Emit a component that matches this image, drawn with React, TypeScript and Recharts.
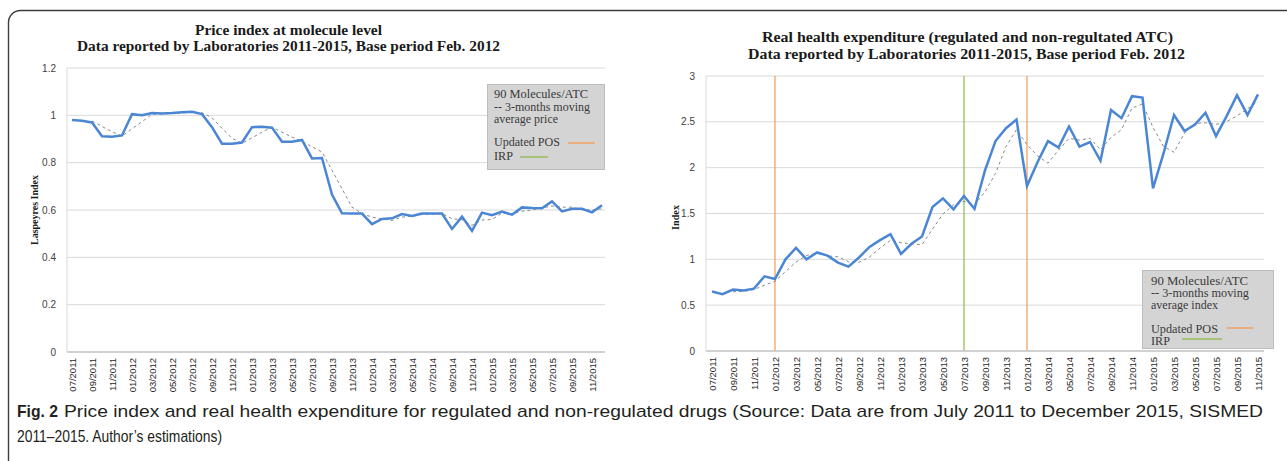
import React from "react";
import { LineChart, Line, XAxis, YAxis, CartesianGrid, ReferenceLine } from "recharts";

const months = [
  "07/2011", "08/2011", "09/2011", "10/2011", "11/2011", "12/2011",
  "01/2012", "02/2012", "03/2012", "04/2012", "05/2012", "06/2012",
  "07/2012", "08/2012", "09/2012", "10/2012", "11/2012", "12/2012",
  "01/2013", "02/2013", "03/2013", "04/2013", "05/2013", "06/2013",
  "07/2013", "08/2013", "09/2013", "10/2013", "11/2013", "12/2013",
  "01/2014", "02/2014", "03/2014", "04/2014", "05/2014", "06/2014",
  "07/2014", "08/2014", "09/2014", "10/2014", "11/2014", "12/2014",
  "01/2015", "02/2015", "03/2015", "04/2015", "05/2015", "06/2015",
  "07/2015", "08/2015", "09/2015", "10/2015", "11/2015", "12/2015",
];

// Laspeyres price index, 90 molecules/ATC
const priceIndex = [
  0.98, 0.977, 0.97, 0.912, 0.91, 0.915, 1.005, 1.0, 1.01, 1.008,
  1.01, 1.013, 1.015, 1.005, 0.95, 0.88, 0.88, 0.885, 0.95, 0.952,
  0.948, 0.888, 0.888, 0.896, 0.818, 0.82, 0.665, 0.586, 0.585, 0.585,
  0.54, 0.562, 0.565, 0.583, 0.575, 0.585, 0.585, 0.585, 0.52, 0.572,
  0.512, 0.589, 0.578, 0.593, 0.58, 0.611, 0.608, 0.607, 0.636, 0.594,
  0.605, 0.605, 0.59, 0.62,
];
const priceAvg = [
  null, null, 0.976, 0.953, 0.931, 0.912, 0.943, 0.973, 1.005, 1.006,
  1.009, 1.01, 1.013, 1.011, 0.99, 0.945, 0.903, 0.882, 0.905, 0.929,
  0.95, 0.929, 0.908, 0.891, 0.867, 0.845, 0.768, 0.69, 0.612, 0.585,
  0.57, 0.562, 0.556, 0.57, 0.574, 0.581, 0.582, 0.585, 0.563, 0.559,
  0.535, 0.558, 0.56, 0.587, 0.584, 0.595, 0.6, 0.609, 0.617, 0.612,
  0.612, 0.601, 0.6, 0.605,
];

// real health expenditure index (07/2011 - 11/2015)
const expenditure = [
  0.65, 0.62, 0.67, 0.66, 0.68, 0.815, 0.785, 1.0, 1.125, 1.0,
  1.075, 1.04, 0.965, 0.92, 1.02, 1.135, 1.21, 1.275, 1.06, 1.17,
  1.25, 1.57, 1.665, 1.545, 1.69, 1.55, 1.97, 2.29, 2.43, 2.525,
  1.8, 2.06, 2.29, 2.22, 2.45, 2.23, 2.28, 2.075, 2.63, 2.54,
  2.78, 2.765, 1.775, 2.155, 2.575, 2.4, 2.47, 2.6, 2.345, 2.56,
  2.79, 2.575, 2.8,
];
const expenditureAvg = [
  null, null, 0.647, 0.65, 0.67, 0.718, 0.76, 0.867, 0.97, 1.042,
  1.067, 1.038, 1.027, 0.975, 0.968, 1.025, 1.122, 1.207, 1.182, 1.168,
  1.16, 1.33, 1.495, 1.593, 1.633, 1.595, 1.737, 1.937, 2.23, 2.415,
  2.252, 2.128, 2.05, 2.19, 2.32, 2.3, 2.32, 2.195, 2.328, 2.415,
  2.65, 2.695, 2.44, 2.232, 2.168, 2.377, 2.482, 2.49, 2.472, 2.502,
  2.565, 2.642, 2.722,
];

const priceTicks = [0, 0.2, 0.4, 0.6, 0.8, 1, 1.2];
const indexTicks = [0, 0.5, 1, 1.5, 2, 2.5, 3];
const posUpdates = ["01/2012", "01/2014"];
const irpDates = ["07/2013"];

const priceData = months.map((m, i) => ({ month: m, value: priceIndex[i], avg: priceAvg[i] }));
const expData = months.slice(0, expenditure.length).map((m, i) => ({
  month: m,
  value: expenditure[i],
  avg: expenditureAvg[i],
}));

const BLUE = "#4a86d4";
const ORANGE = "#f4a261";
const GREEN = "#9bbb59";
const SANS = "'Liberation Sans', Arial, sans-serif";
const SERIF = "'Liberation Serif', 'Times New Roman', serif";

const MonthTick = (props: any) => {
  const { x, y, payload } = props;
  const bx = x + 3.5;
  return (
    <text
      x={bx}
      y={y}
      transform={`rotate(-90, ${bx}, ${y})`}
      textAnchor="end"
      fontSize={9.5}
      fill="#262626"
      fontFamily={SANS}
    >
      {payload.value}
    </text>
  );
};

const yTick = { fontSize: 10, fill: "#404040", fontFamily: SANS };

export default function App() {
  return (
    <div style={{ position: "relative", width: 1287, height: 461, background: "#fff", overflow: "hidden" }}>
      <style>{"body{margin:0}"}</style>

      <div style={{ position: "absolute", left: 0, top: 0 }}>
        <LineChart width={640} height={400} data={priceData} margin={{ top: 68, right: 35, bottom: 0, left: 0 }}>
          <CartesianGrid vertical={false} stroke="#d9d9d9" />
          <XAxis
            dataKey="month"
            interval={1}
            height={48}
            padding={{ left: 5, right: 3 }}
            tickSize={0}
            tickMargin={6}
            axisLine={{ stroke: "#c8c8c8", strokeWidth: 1.5 }}
            tick={<MonthTick />}
          />
          <YAxis
            type="number"
            domain={[0, 1.2]}
            ticks={priceTicks}
            interval={0}
            width={67}
            tickSize={0}
            tickMargin={11}
            tickLine={false}
            axisLine={{ stroke: "#d9d9d9" }}
            tick={yTick}
          />
          <Line dataKey="avg" stroke="#8a8a8a" strokeWidth={1} strokeDasharray="3 3" dot={false} isAnimationActive={false} />
          <Line dataKey="value" stroke={BLUE} strokeWidth={2.5} dot={false} isAnimationActive={false} />
        </LineChart>
      </div>

      <div style={{ position: "absolute", left: 640, top: 0 }}>
        <LineChart width={647} height={400} data={expData} margin={{ top: 76, right: 23, bottom: 0, left: 0 }}>
          <CartesianGrid vertical={false} stroke="#d9d9d9" />
          <XAxis
            dataKey="month"
            interval={1}
            height={49}
            padding={{ left: 6, right: 6 }}
            tickSize={0}
            tickMargin={6}
            axisLine={{ stroke: "#c8c8c8", strokeWidth: 1.5 }}
            tick={<MonthTick />}
          />
          <YAxis
            type="number"
            domain={[0, 3]}
            ticks={indexTicks}
            interval={0}
            width={66}
            tickSize={0}
            tickMargin={11}
            tickLine={false}
            axisLine={{ stroke: "#d9d9d9" }}
            tick={yTick}
          />
          {posUpdates.map((m) => (
            <ReferenceLine key={m} x={m} stroke={ORANGE} strokeWidth={1.3} />
          ))}
          {irpDates.map((m) => (
            <ReferenceLine key={m} x={m} stroke={GREEN} strokeWidth={1.3} />
          ))}
          <Line dataKey="avg" stroke="#8a8a8a" strokeWidth={1} strokeDasharray="3 3" dot={false} isAnimationActive={false} />
          <Line dataKey="value" stroke={BLUE} strokeWidth={2.5} dot={false} isAnimationActive={false} />
        </LineChart>
      </div>

      <svg width={1287} height={461} style={{ position: "absolute", left: 0, top: 0, pointerEvents: "none" }}>
        <rect x={8.5} y={10.5} width={1320} height={520} rx={12} fill="none" stroke="#3c3c3c" strokeWidth={1.4} />

        {/* chart titles */}
        <g fontFamily={SERIF} fontWeight="bold" fontSize={15} fill="#1a1a1a">
          <text x={195} y={34.5} textLength={187} lengthAdjust="spacingAndGlyphs">Price index at molecule level</text>
          <text x={77} y={51} textLength={423} lengthAdjust="spacingAndGlyphs">
            Data reported by Laboratories  2011-2015, Base period Feb. 2012
          </text>
          <text x={762} y={41.5} textLength={411} lengthAdjust="spacingAndGlyphs">
            Real health expenditure  (regulated and non-regultated ATC)
          </text>
          <text x={748} y={58.5} textLength={437} lengthAdjust="spacingAndGlyphs">
            Data reported by Laboratories  2011-2015, Base period Feb. 2012
          </text>
        </g>

        {/* axis titles */}
        <g fontFamily={SERIF} fontWeight="bold" fontSize={11} fill="#1a1a1a">
          <text x={38} y={210} transform="rotate(-90, 38, 210)" textAnchor="middle" textLength={70} lengthAdjust="spacingAndGlyphs">
            Laspeyres Index
          </text>
          <text x={679} y={217.5} transform="rotate(-90, 679, 217.5)" textAnchor="middle" textLength={25} lengthAdjust="spacingAndGlyphs">
            Index
          </text>
        </g>

        {/* left legend */}
        <rect x={487.5} y={84.5} width={117} height={85} fill="#d4d4d4" stroke="#bdbdbd" />
        <g fontFamily={SERIF} fontSize={12.5} fill="#3a3a3a">
          <text x={494} y={98} textLength={94} lengthAdjust="spacingAndGlyphs">90 Molecules/ATC</text>
          <text x={494} y={111} textLength={96} lengthAdjust="spacingAndGlyphs">-- 3-months moving</text>
          <text x={494} y={123} textLength={64} lengthAdjust="spacingAndGlyphs">average price</text>
          <text x={494} y={146} textLength={66} lengthAdjust="spacingAndGlyphs">Updated POS</text>
          <text x={494} y={160} textLength={19} lengthAdjust="spacingAndGlyphs">IRP</text>
        </g>
        <line x1={568} x2={595} y1={143} y2={143} stroke={ORANGE} strokeWidth={1.5} />
        <line x1={520} x2={548} y1={157} y2={157} stroke={GREEN} strokeWidth={1.5} />

        {/* right legend */}
        <rect x={1142.5} y={270.5} width={131} height={78} fill="#d4d4d4" stroke="#bdbdbd" />
        <g fontFamily={SERIF} fontSize={12.5} fill="#3a3a3a">
          <text x={1151} y={285} textLength={97} lengthAdjust="spacingAndGlyphs">90 Molecules/ATC</text>
          <text x={1151} y={297} textLength={98} lengthAdjust="spacingAndGlyphs">-- 3-months moving</text>
          <text x={1151} y={309} textLength={67} lengthAdjust="spacingAndGlyphs">average index</text>
          <text x={1151} y={333} textLength={67} lengthAdjust="spacingAndGlyphs">Updated POS</text>
          <text x={1151} y={345} textLength={19} lengthAdjust="spacingAndGlyphs">IRP</text>
        </g>
        <line x1={1227} x2={1253} y1={328} y2={328} stroke={ORANGE} strokeWidth={1.5} />
        <line x1={1182} x2={1222} y1={339} y2={339} stroke={GREEN} strokeWidth={1.5} />

        {/* caption */}
        <g fontFamily={SANS} fontSize={17} fill="#231f20">
          <text x={17} y={417} fontWeight="bold" textLength={41} lengthAdjust="spacingAndGlyphs">Fig. 2</text>
          <text x={64} y={417} textLength={1199} lengthAdjust="spacingAndGlyphs">
            Price index and real health expenditure for regulated and non-regulated drugs (Source: Data are from July 2011 to December 2015, SISMED
          </text>
          <text x={17} y={442} textLength={205} lengthAdjust="spacingAndGlyphs">
            2011–2015. Author’s estimations)
          </text>
        </g>
      </svg>
    </div>
  );
}
